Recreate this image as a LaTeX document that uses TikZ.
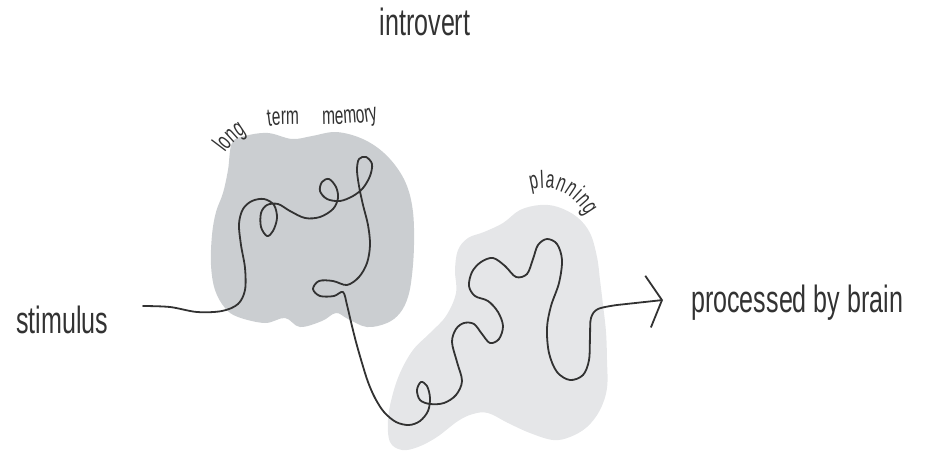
\documentclass[tikz,border=0pt]{standalone}
\usepackage{fontspec}
\newfontfamily\hand[FakeStretch=0.66]{Liberation Sans}
\newfontfamily\handsmall[FakeStretch=0.62]{Liberation Sans}
\usetikzlibrary{arrows.meta,decorations.text}
\definecolor{ink}{RGB}{50,50,50}
\definecolor{memfill}{RGB}{203,206,209}
\definecolor{planfill}{RGB}{229,230,232}
\begin{document}
\begin{tikzpicture}[x=1pt,y=-1pt,
  word/.style={font=\hand\fontsize{38}{38}\selectfont, text=ink, inner sep=0pt},
  wire/.style={draw=ink, line width=1.8pt, line cap=round, line join=round},
]
\useasboundingbox (0,0) rectangle (926,455);

% long term memory region
\fill[memfill] plot[smooth cycle, tension=0.6] coordinates {
  (232,143) (245,136) (268,133) (292,139) (312,136) (335,132) (358,137)
  (378,148) (395,165) (407,186) (413,212) (414,245) (412,275) (408,297)
  (400,313) (387,323) (367,327) (348,319) (336,313) (322,321) (300,327)
  (285,318) (265,323) (238,317) (225,308) (215,290) (211,265) (212,235)
  (216,212) (223,193) (228,170)};

% planning region
\fill[planfill] plot[smooth cycle, tension=0.6] coordinates {
  (503,223) (520,210) (540,205) (558,207) (577,217) (590,233) (597,257)
  (600,280) (603,305) (606,332) (607,360) (607,388) (600,410) (587,427)
  (570,437) (553,440) (530,433) (508,423) (488,413) (473,414) (458,421)
  (437,437) (418,447) (402,450) (390,442) (388,420) (392,397) (400,373)
  (413,350) (430,333) (446,316) (456,293) (455,270) (458,250) (468,238)
  (484,232)};

% labels
\node[word, anchor=base] (intro) at (425,35) {introvert};
\node[word, anchor=base west] (stim) at (16,333) {stimulus};
\node[word, anchor=base west] (brain) at (691,312) {processed by brain};

% region captions set along curved baselines
\path[decorate, decoration={text along path,
    text={|\handsmall\fontsize{25}{25}\selectfont\color{ink}|long term memory},
    text align=fit to path stretching spaces}]
  (225,153) .. controls (236,138) and (250,126) .. (280,125)
  .. controls (312,124) and (350,126) .. (378,120);
\path[decorate, decoration={text along path,
    text={|\handsmall\fontsize{25}{25}\selectfont\color{ink}|planning},
    text align=fit to path}]
  (531,190) .. controls (552,184) and (572,192) .. (586,216);

% the tangled route of a stimulus through the brain
\coordinate (in) at (143,306);
\coordinate (tip) at (663,300);
\draw[wire, -{Straight Barb[length=14pt, width=52pt]}]
  plot[smooth, tension=0.55] coordinates {
  (in) (170,307) (197,312) (222,311) (238,304) (245,290) (245,268)
  (241,245) (239,224) (243,209) (252,201) (264,199) (274,205) (277,218)
  (273,231) (267,236) (261,227) (261,213) (267,205) (278,204) (290,211)
  (305,218) (320,217) (333,209) (338,198) (336,187) (329,179) (322,182)
  (320,191) (327,199) (340,201) (353,196) (363,188) (370,176) (372,164)
  (366,157) (359,159) (357,170) (359,186) (363,205) (368,225) (370,245)
  (367,263) (359,277) (347,285) (333,281) (319,281) (313,289) (320,296)
  (334,296) (343,292) (347,305) (351,322) (356,342) (362,363) (368,382)
  (375,398) (384,412) (396,422) (409,425) (420,421) (428,411) (430,398)
  (427,386) (421,382) (417,390) (420,400) (430,404) (444,403) (456,395)
  (462,381) (457,362) (452,342) (456,329) (464,323) (474,324) (482,334)
  (490,343) (499,339) (503,326) (498,312) (488,301) (475,296) (469,286)
  (472,272) (481,262) (493,258) (505,266) (516,277) (527,274) (533,259)
  (538,245) (547,239) (557,244) (562,260) (559,283) (551,306) (547,328)
  (549,353) (557,372) (570,380) (583,375) (589,360) (590,336) (591,318)
  (598,309) (617,305)} -- (tip);
\end{tikzpicture}
\end{document}
